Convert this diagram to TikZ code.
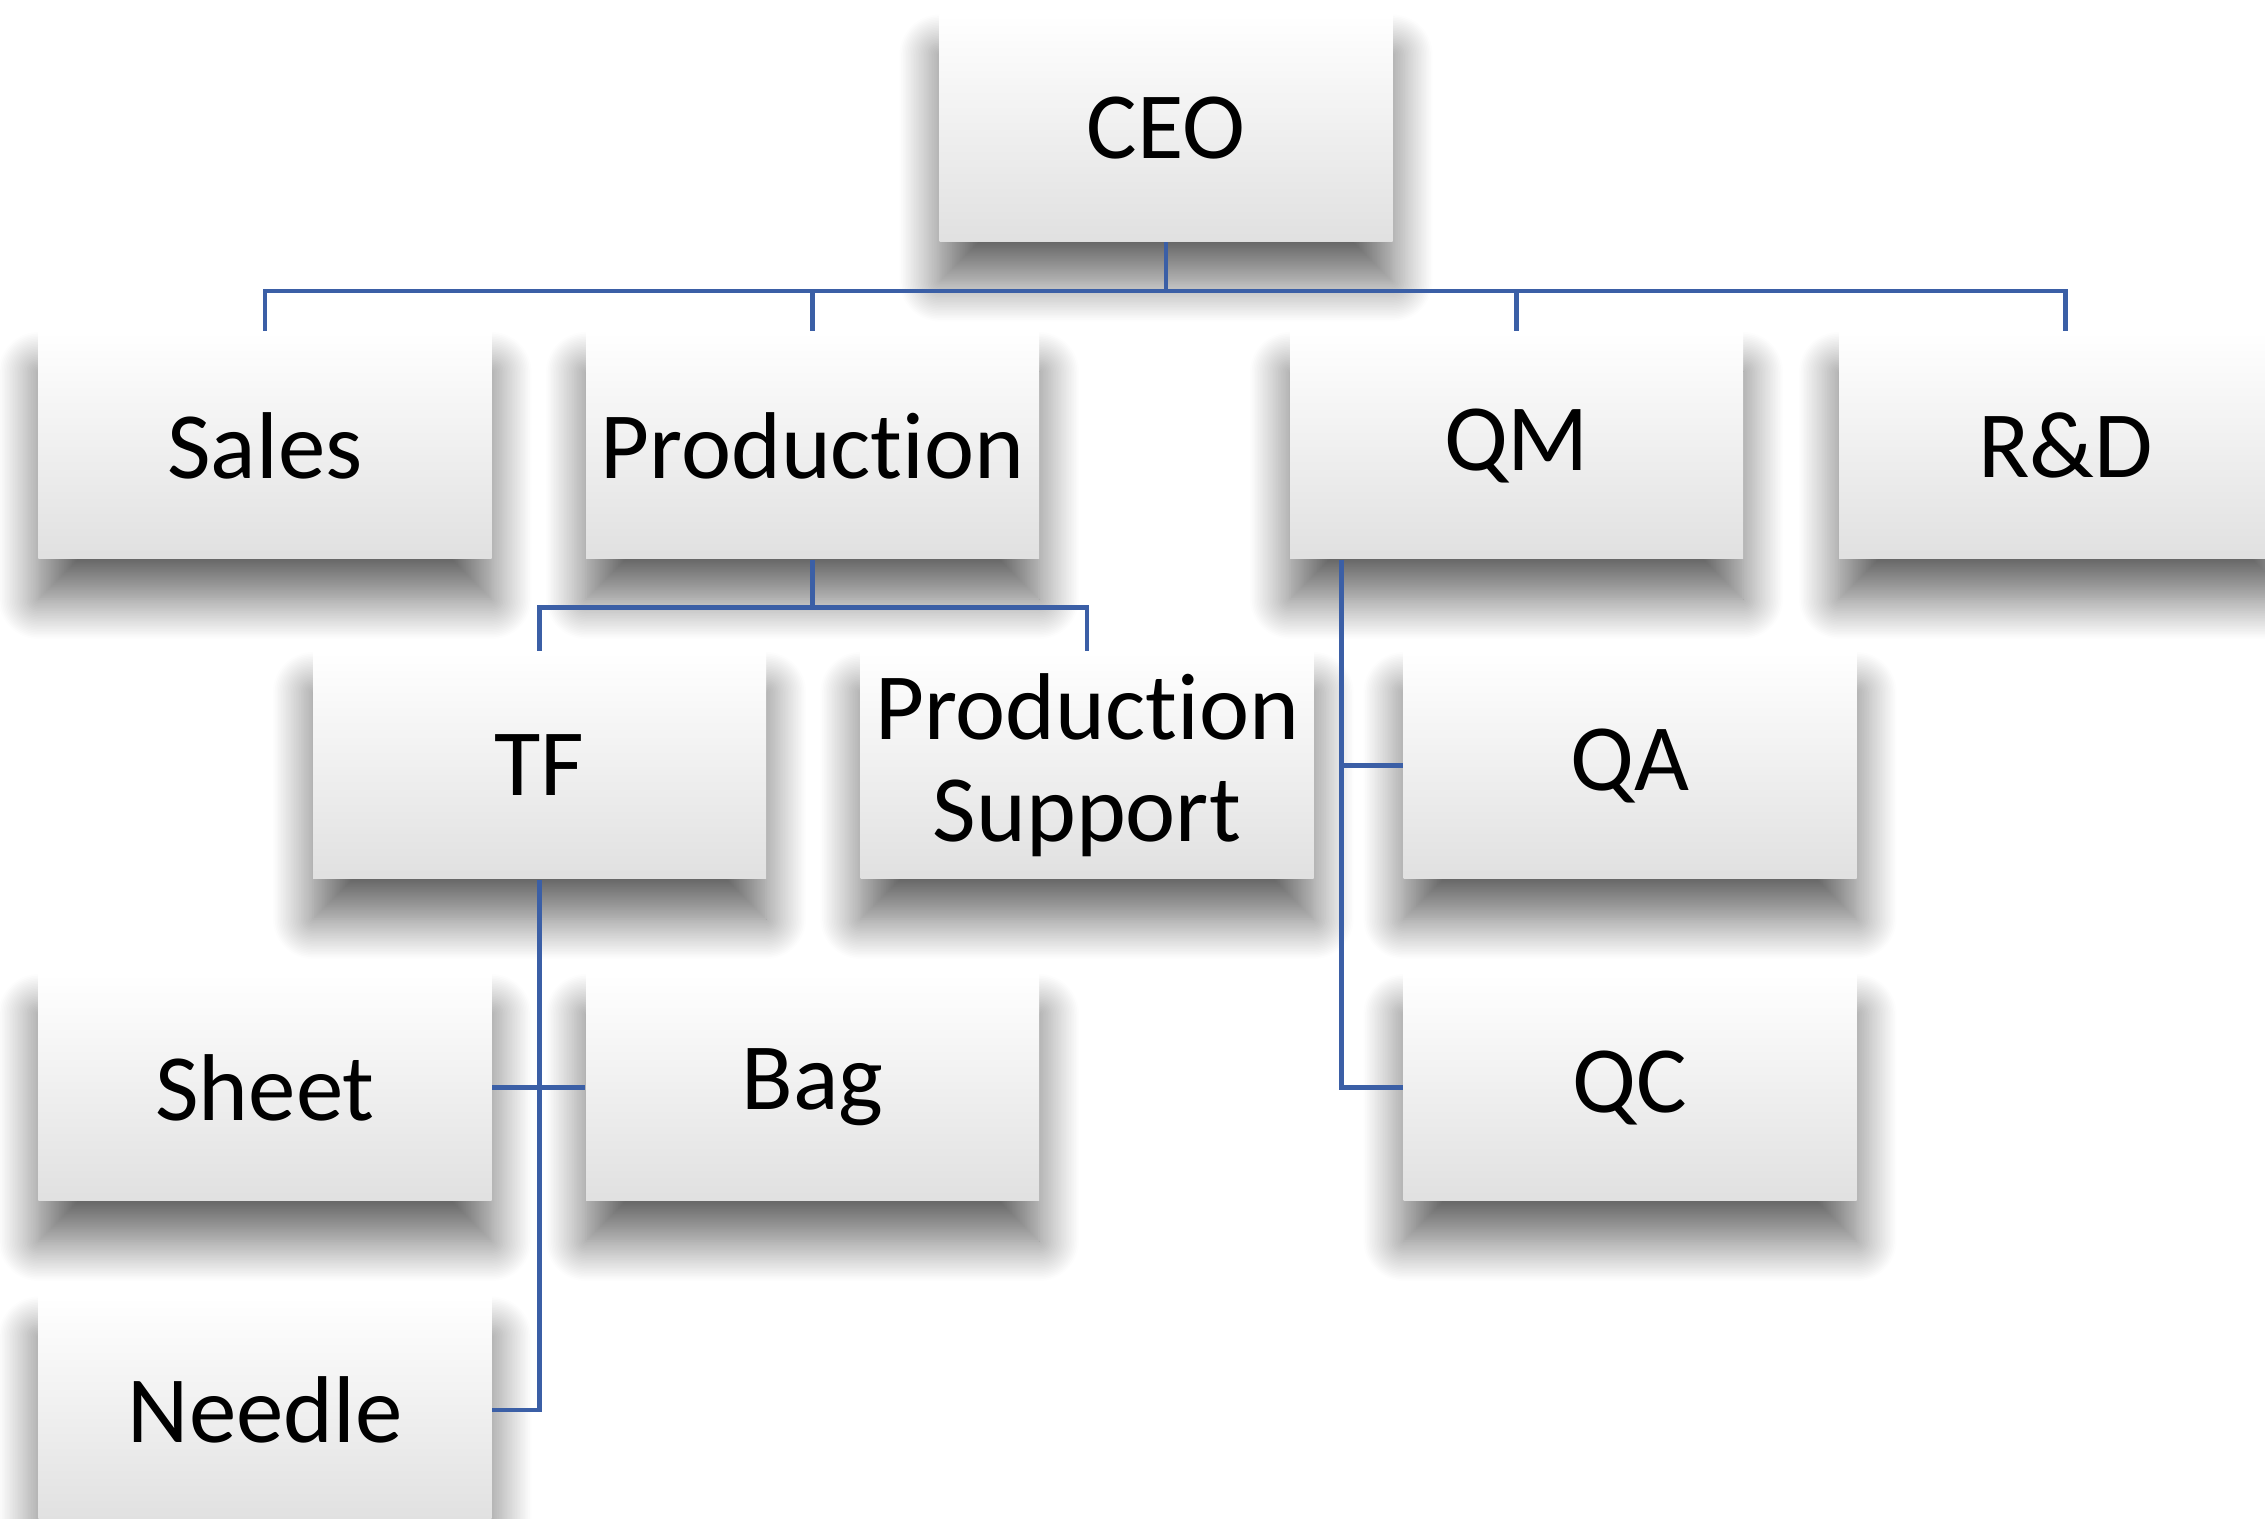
\documentclass[tikz,border=0pt]{standalone}
\usepackage{fontspec}
\setmainfont{Carlito}[Ligatures=CommonOff]
\usetikzlibrary{shadows.blur}

\begin{document}
\begin{tikzpicture}

	%DEFINICIONES
	\tikzstyle{every node}=[font=\fontsize{27}{29}\selectfont]
	\tikzstyle{caja} = [rectangle, align=center, inner sep=0pt, minimum width=4.53cm, minimum height=2.27cm, top color=white, middle color=white, bottom color=black!12, blur shadow={shadow xshift=0cm, shadow yshift=-0.4cm, shadow blur radius=0.4cm, shadow blur steps=25, shadow opacity=60}]
	\tikzstyle{linea} = [line width=0.45mm, color={rgb,255:red,59; green,95; blue,166}]

	\clip (0,0) rectangle (22.65,-15.19);

	%CAJAS
	\draw(11.66,-1.28) node[caja](ceo){CEO};

	\draw(2.65,-4.455) node[caja](ventas){Sales};
	\draw(8.125,-4.455) node[caja](prod){Production};
	\draw(15.165,-4.455) node[caja](qm){QM};
	\draw(20.655,-4.455) node[caja](rd){R\&D};

	\draw(5.395,-7.655) node[caja](tf){TF};
	\draw(10.87,-7.655) node[caja](soporte){Production\\Support};
	\draw(16.30,-7.655) node[caja](qa){QA};

	\draw(2.65,-10.875) node[caja](hoja){Sheet};
	\draw(8.125,-10.875) node[caja](bolsa){Bag};
	\draw(16.30,-10.875) node[caja](qc){QC};

	\draw(2.65,-14.10) node[caja](aguja){Needle};

	%LINEAS
	\draw [linea] (ceo.south) -- ++(0,-0.49) -| (ventas.north);
	\draw [linea] (ceo.south) -- ++(0,-0.49) -| (prod.north);
	\draw [linea] (ceo.south) -- ++(0,-0.49) -| (qm.north);
	\draw [linea] (ceo.south) -- ++(0,-0.49) -| (rd.north);

	\draw [linea] (prod.south) -- ++(0,-0.48) -| (tf.north);
	\draw [linea] (prod.south) -- ++(0,-0.48) -| (soporte.north);

	\draw [linea] ([xshift=0.52cm]qm.south west) |- (qa.west);
	\draw [linea] ([xshift=0.52cm]qm.south west) |- (qc.west);

	\draw [linea] (tf.south) |- (aguja.east);
	\draw [linea] (hoja.east) -- (bolsa.west);
\end{tikzpicture}
\end{document}
